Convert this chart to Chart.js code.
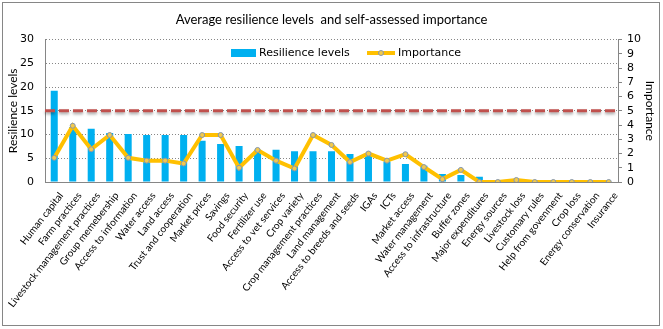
<!DOCTYPE html>
<html>
<head>
<meta charset="utf-8">
<script src="https://cdn.jsdelivr.net/npm/chart.js@4"></script>
<style>
  html, body { margin: 0; padding: 0; background: #fff; }
  #wrap { width: 663px; height: 329px; }
</style>
</head>
<body>
<div id="wrap"><canvas id="myChart" width="663" height="329"></canvas></div>
<script>
// DATA
const categories = [
  'Human capital', 'Farm practices', 'Livestock management practices', 'Group memebership',
  'Access to information', 'Water access', 'Land access', 'Trust and cooperation',
  'Market prices', 'Savings', 'Food security', 'Fertilizer use', 'Access to vet services',
  'Crop variety', 'Crop management practices', 'Land management', 'Access to breeds and seeds',
  'IGAs', 'ICTs', 'Market access', 'Water management', 'Access to infrastructure',
  'Buffer zones', 'Major expenditures', 'Energy sources', 'Livestock loss', 'Customary rules',
  'Help from govenment', 'Crop loss', 'Energy conservation', 'Insurance'
];
const resilienceLevels = [19.2, 11.6, 11.2, 10.3, 10.1, 9.9, 9.9, 9.9, 8.7, 8.0, 7.6, 6.8, 6.8,
  6.5, 6.5, 6.5, 5.9, 5.9, 4.3, 3.8, 3.4, 1.7, 1.5, 1.1, 0.4, 0, 0, 0, 0, 0, 0];
const importance = [1.7, 3.95, 2.3, 3.3, 1.7, 1.5, 1.5, 1.3, 3.3, 3.3, 1.0, 2.25, 1.5,
  0.95, 3.3, 2.6, 1.4, 2.0, 1.5, 1.95, 1.05, 0.2, 0.85, 0, 0, 0.14, 0, 0, 0, 0, 0];
const resilienceTicks = [0, 5, 10, 15, 20, 25, 30];
const importanceTicks = [0, 1, 2, 3, 4, 5, 6, 7, 8, 9, 10];
const thresholdLevel = 15;

const tickFont = { family: 'DejaVu Sans', size: 11 };
const labelFont = { family: 'Lato', size: 10 };
const gray = '#868686';

// threshold line, legend, frame
const extras = {
  id: 'extras',
  afterDatasetsDraw(chart) {
    const { ctx, chartArea } = chart;
    const y = chart.scales.y.getPixelForValue(thresholdLevel);
    ctx.save();
    ctx.strokeStyle = '#C0504D';
    ctx.lineWidth = 3;
    ctx.setLineDash([10, 4]);
    ctx.shadowColor = 'rgba(0,0,0,0.35)';
    ctx.shadowBlur = 3;
    ctx.shadowOffsetY = 2;
    ctx.beginPath();
    ctx.moveTo(chartArea.left, y);
    ctx.lineTo(chartArea.right, y);
    ctx.stroke();
    ctx.restore();
  },
  afterDraw(chart) {
    const { ctx } = chart;
    const ds = chart.data.datasets;
    ctx.save();
    // legend
    ctx.font = '11px "DejaVu Sans"';
    ctx.textBaseline = 'middle';
    ctx.fillStyle = ds[0].backgroundColor;
    ctx.fillRect(231, 49, 25, 8);
    ctx.fillStyle = '#000';
    ctx.fillText(ds[0].label, 259, 53);
    ctx.strokeStyle = ds[1].borderColor;
    ctx.lineWidth = 4;
    ctx.beginPath();
    ctx.moveTo(367, 53);
    ctx.lineTo(395, 53);
    ctx.stroke();
    ctx.beginPath();
    ctx.arc(381, 53, 2.5, 0, Math.PI * 2);
    ctx.fillStyle = ds[1].pointBackgroundColor;
    ctx.fill();
    ctx.lineWidth = 1;
    ctx.strokeStyle = ds[1].pointBorderColor;
    ctx.stroke();
    ctx.fillStyle = '#000';
    ctx.fillText(ds[1].label, 398, 53);
    // outer frame
    ctx.strokeStyle = gray;
    ctx.lineWidth = 1;
    ctx.strokeRect(2.5, 2.5, 657, 323);
    ctx.restore();
  }
};

const ctx = document.getElementById('myChart');
const myChart = new Chart(ctx, {
  type: 'bar',
  data: {
    labels: categories,
    datasets: [{
      type: 'bar',
      label: 'Resilience levels',
      data: resilienceLevels,
      backgroundColor: '#00B0F0',
      barPercentage: 0.38,
      categoryPercentage: 1,
      yAxisID: 'y',
      order: 2
    }, {
      type: 'line',
      label: 'Importance',
      data: importance,
      borderColor: '#FFC000',
      borderWidth: 4,
      pointRadius: 2.5,
      pointBackgroundColor: '#F2C94C',
      pointBorderColor: '#8497B0',
      pointBorderWidth: 1,
      tension: 0,
      yAxisID: 'y1',
      order: 1
    }]
  },
  options: {
    responsive: false,
    animation: false,
    layout: { padding: { left: 0, right: 0, top: 0, bottom: 0 } },
    plugins: {
      legend: { display: false },
      tooltip: { enabled: false },
      title: {
        display: true,
        text: 'Average resilience levels  and self-assessed importance',
        color: '#000',
        font: { family: 'Lato', size: 13, weight: 'normal' },
        padding: { top: 12, bottom: 12 }
      }
    },
    scales: {
      x: {
        grid: { display: false, drawTicks: false },
        border: { color: gray },
        ticks: {
          autoSkip: false, minRotation: 52, maxRotation: 52,
          color: '#000', font: labelFont, padding: 8, labelOffset: 7
        },
        afterFit: s => { s.height = 147; }
      },
      y: {
        position: 'left',
        min: 0, max: 30,
        afterBuildTicks: s => { s.ticks = resilienceTicks.map(v => ({ value: v })); },
        grid: { color: gray, drawTicks: false },
        border: { color: gray, dash: [1, 2] },
        ticks: { color: '#000', font: tickFont, padding: 11, autoSkip: false },
        title: { display: true, text: 'Resilience levels', color: '#000',
          font: { family: 'Lato', size: 12 }, padding: { top: 6, bottom: 0 } },
        afterFit: s => { s.width = 45; }
      },
      y1: {
        position: 'right',
        min: 0, max: 10,
        afterBuildTicks: s => { s.ticks = importanceTicks.map(v => ({ value: v })); },
        grid: { drawOnChartArea: false, color: gray, tickLength: 4 },
        border: { color: gray },
        ticks: { color: '#000', font: tickFont, padding: 5, autoSkip: false },
        title: { display: true, text: 'Importance', color: '#000',
          font: { family: 'Lato', size: 12 }, padding: { top: 6, bottom: 0 } },
        afterFit: s => { s.width = 45; }
      }
    }
  },
  plugins: [extras]
});
</script>
</body>
</html>
